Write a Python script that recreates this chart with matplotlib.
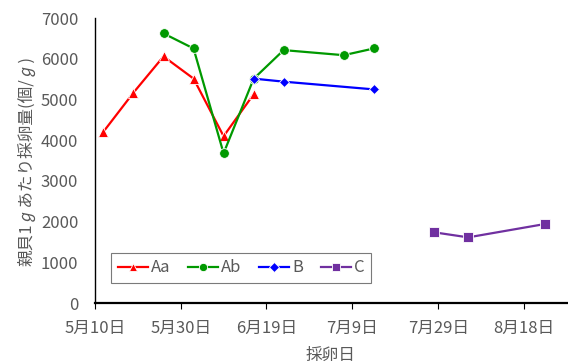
import datetime as dt
import matplotlib
matplotlib.use("Agg")
import matplotlib.pyplot as plt

plt.rcParams['font.family'] = ['Noto Sans CJK JP', 'DejaVu Sans']

# data
aa_dates = ["05-12", "05-19", "05-26", "06-02", "06-09", "06-16"]
aa_vals = [4210, 5170, 6060, 5515, 4100, 5130]

ab_dates = ["05-26", "06-02", "06-09", "06-16", "06-23", "07-07", "07-14"]
ab_vals = [6625, 6255, 3680, 5510, 6215, 6090, 6255]

b_dates = ["06-16", "06-23", "07-14"]
b_vals = [5515, 5440, 5250]

c_dates = ["07-28", "08-05", "08-23"]
c_vals = [1740, 1615, 1945]

yticks = [0, 1000, 2000, 3000, 4000, 5000, 6000, 7000]


def to_dates(lst):
    return [dt.datetime.strptime("2020-" + s, "%Y-%m-%d") for s in lst]


fig = plt.figure(figsize=(5.68, 3.63), dpi=100)
ax = fig.add_axes([0.167, 0.165, 0.831, 0.785])

ax.plot(to_dates(aa_dates), aa_vals, color="#FF0000", lw=1.6, marker="^",
        ms=7, mec="white", mew=0.6, label="Aa")
ax.plot(to_dates(ab_dates), ab_vals, color="#009900", lw=1.6, marker="o",
        ms=7, mec="white", mew=0.6, label="Ab")
ax.plot(to_dates(b_dates), b_vals, color="#0000FF", lw=1.6, marker="D",
        ms=5.5, mec="white", mew=0.6, label="B")
ax.plot(to_dates(c_dates), c_vals, color="#7030A0", lw=1.6, marker="s",
        ms=6.5, mec="white", mew=0.6, label="C")

start = dt.datetime(2020, 5, 10)
ticks = [start + dt.timedelta(days=20 * i) for i in range(6)]
ax.set_xticks(ticks)
ax.set_xticklabels([f"{d.month}月{d.day}日" for d in ticks])
ax.set_xlim(start, start + dt.timedelta(days=110))
ax.set_ylim(0, 7000)
ax.set_yticks(yticks)

for s in ["top", "right"]:
    ax.spines[s].set_visible(False)
ax.spines["left"].set_linewidth(1.0)
ax.spines["bottom"].set_linewidth(1.6)
ax.tick_params(axis="y", length=0, labelsize=12, labelcolor="#595959", pad=12)
ax.tick_params(axis="x", length=4, width=0.8, labelsize=12,
               labelcolor="#595959", pad=8)

ax.set_xlabel("採卵日", fontsize=12, color="#595959", labelpad=7)
ax.set_ylabel("親貝1ℊあたり採卵量(個/ℊ)", fontsize=12, color="#595959",
              labelpad=4)

leg = ax.legend(loc="lower left", bbox_to_anchor=(0.034, 0.07), ncol=4,
                fontsize=12, frameon=True, fancybox=False, handlelength=1.8,
                columnspacing=1.05, handletextpad=0.2, borderpad=0.4,
                borderaxespad=0, markerscale=0.85)
leg.get_frame().set_edgecolor("#595959")
leg.get_frame().set_linewidth(0.8)
for t in leg.get_texts():
    t.set_color("#595959")

fig.savefig("out.png", dpi=100)
